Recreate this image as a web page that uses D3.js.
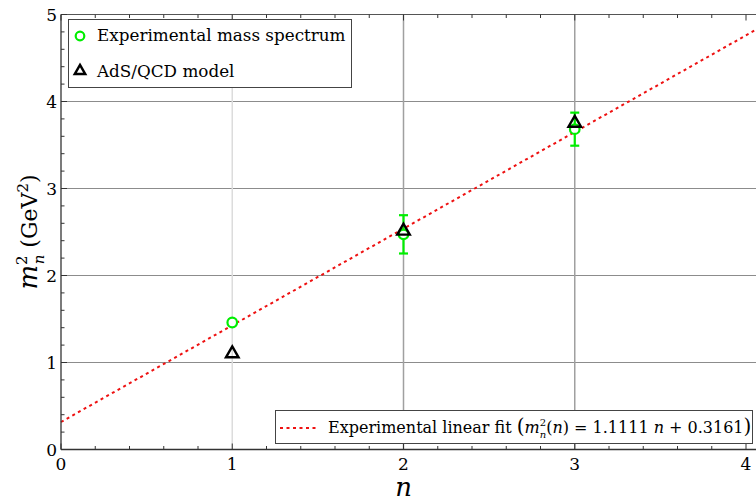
<!DOCTYPE html>
<html>
<head>
<meta charset="utf-8">
<script src="https://cdn.jsdelivr.net/npm/d3@7"></script>
<style>
  body { margin: 0; background: #fff; }
  text { font-family: "DejaVu Serif", serif; white-space: pre; }
</style>
</head>
<body>
<svg id="chart" width="756" height="504"></svg>
<script>
// data
let levels = [1, 2, 3]
let expMass = [1.46, 2.473, 3.682]
let expErr = [0, 0.22, 0.19]
let adsMass = [1.09, 2.50, 3.74]
let fitSlope = 1.1111
let fitIntercept = 0.3161
let xTicks = [0, 1, 2, 3, 4]
let yTicks = [0, 1, 2, 3, 4, 5]

let svg = d3.select("#chart")
let pLeft = 61, pRight = 746, pTop = 14.5, pBottom = 449.5

let x = d3.scaleLinear().domain([0, 4]).range([pLeft, pRight])
let y = d3.scaleLinear().domain([0, 5]).range([pBottom, pTop])

let minorX = d3.range(0, 4.21, 0.2)
let minorY = d3.range(0, 5.01, 0.2)

// grid lines
svg.append("g").selectAll("line")
  .data([1, 2, 3, 4])
  .enter().append("line")
    .attr("x1", pLeft).attr("x2", 756)
    .attr("y1", d => y(d)).attr("y2", d => y(d))
    .style("stroke", "#8c8c8c").style("stroke-width", 1.2)

svg.append("g").selectAll("line")
  .data([1, 2, 3])
  .enter().append("line")
    .attr("x1", d => x(d)).attr("x2", d => x(d))
    .attr("y1", pTop).attr("y2", pBottom)
    .style("stroke", d => d == 1 ? "#dcdcdc" : "#a0a0a0")
    .style("stroke-width", 1.5)

// fit line
let fitLine = d3.line()
  .x(d => x(d))
  .y(d => y(fitSlope * d + fitIntercept))

svg.append("path")
  .datum([0, 4.2])
  .attr("d", fitLine)
  .style("fill", "none")
  .style("stroke", "#ee1111")
  .style("stroke-width", 2)
  .style("stroke-dasharray", "3,3.5")

// error bars
let err = svg.append("g").selectAll("g")
  .data(levels.map((n, i) => ({n: n, m: expMass[i], e: expErr[i]})).filter(d => d.e > 0))
  .enter().append("g")
  .style("stroke", "#00ee00").style("stroke-width", 2.2)

err.append("line")
  .attr("x1", d => x(d.n)).attr("x2", d => x(d.n))
  .attr("y1", d => y(d.m - d.e)).attr("y2", d => y(d.m + d.e))
err.append("line")
  .attr("x1", d => x(d.n) - 4.5).attr("x2", d => x(d.n) + 4.5)
  .attr("y1", d => y(d.m - d.e)).attr("y2", d => y(d.m - d.e))
err.append("line")
  .attr("x1", d => x(d.n) - 4.5).attr("x2", d => x(d.n) + 4.5)
  .attr("y1", d => y(d.m + d.e)).attr("y2", d => y(d.m + d.e))

// experimental points
svg.append("g").selectAll("circle")
  .data(levels)
  .enter().append("circle")
    .attr("cx", d => x(d))
    .attr("cy", (d, i) => y(expMass[i]))
    .attr("r", 4.8)
    .style("fill", "white")
    .style("stroke", "#00ee00")
    .style("stroke-width", 2.2)

// AdS/QCD triangles
let tri = d3.symbol().type(d3.symbolTriangle).size(68)
svg.append("g").selectAll("path")
  .data(levels)
  .enter().append("path")
    .attr("d", tri)
    .attr("transform", (d, i) => "translate(" + x(d) + "," + (y(adsMass[i]) - 1) + ")")
    .style("fill", "none")
    .style("stroke", "black")
    .style("stroke-width", 2.4)

// frame: left, bottom, top
svg.append("line").attr("x1", pLeft).attr("x2", pLeft).attr("y1", pTop).attr("y2", pBottom)
  .style("stroke", "#333").style("stroke-width", 1.3)
svg.append("line").attr("x1", pLeft).attr("x2", 756).attr("y1", pBottom).attr("y2", pBottom)
  .style("stroke", "#333").style("stroke-width", 1.3)
svg.append("line").attr("x1", pLeft).attr("x2", 756).attr("y1", pTop).attr("y2", pTop)
  .style("stroke", "#555").style("stroke-width", 1.1)

// ticks pointing inward
function isMajor(v) { return Math.abs(v - Math.round(v)) < 1e-6 }

svg.append("g").selectAll("line")
  .data(minorX)
  .enter().append("line")
    .attr("x1", d => x(d)).attr("x2", d => x(d))
    .attr("y1", pBottom).attr("y2", d => pBottom - (isMajor(d) ? 6 : 3.5))
    .style("stroke", "#333").style("stroke-width", 1)

svg.append("g").selectAll("line")
  .data(minorX)
  .enter().append("line")
    .attr("x1", d => x(d)).attr("x2", d => x(d))
    .attr("y1", pTop).attr("y2", d => pTop + (isMajor(d) ? 6 : 3.5))
    .style("stroke", "#333").style("stroke-width", 1)

svg.append("g").selectAll("line")
  .data(minorY)
  .enter().append("line")
    .attr("x1", pLeft).attr("x2", d => pLeft + (isMajor(d) ? 6 : 3.5))
    .attr("y1", d => y(d)).attr("y2", d => y(d))
    .style("stroke", "#333").style("stroke-width", 1)

// tick labels
svg.append("g").selectAll("text")
  .data(xTicks)
  .enter().append("text")
    .attr("x", d => x(d))
    .attr("y", pBottom + 20)
    .attr("text-anchor", "middle")
    .style("font-size", "17px")
    .text(d => d)

svg.append("g").selectAll("text")
  .data(yTicks)
  .enter().append("text")
    .attr("x", pLeft - 4)
    .attr("y", d => y(d) + 6)
    .attr("text-anchor", "end")
    .style("font-size", "17px")
    .text(d => d)

// axis titles
svg.append("text")
  .attr("x", x(2))
  .attr("y", 496)
  .attr("text-anchor", "middle")
  .style("font-size", "26px")
  .style("font-style", "italic")
  .text("n")

let ylab = svg.append("text")
  .attr("transform", "translate(37,232) rotate(-90)")
  .attr("text-anchor", "middle")
  .style("font-size", "22px")
ylab.append("tspan").style("font-style", "italic").style("font-size", "26px").text("m")
ylab.append("tspan").attr("dy", -10).style("font-size", "15px").text("2")
ylab.append("tspan").attr("dx", -9).attr("dy", 17).style("font-size", "15px").style("font-style", "italic").text("n")
ylab.append("tspan").attr("dy", -7).text(" (GeV")
ylab.append("tspan").attr("dy", -9).style("font-size", "15px").text("2")
ylab.append("tspan").attr("dy", 9).text(")")

// legend, top left
let leg = svg.append("g")
leg.append("rect")
  .attr("x", 68.5).attr("y", 19.5).attr("width", 283).attr("height", 68)
  .style("fill", "white").style("stroke", "#444").style("stroke-width", 1)
leg.append("circle")
  .attr("cx", 80).attr("cy", 36).attr("r", 4.3)
  .style("fill", "white").style("stroke", "#00ee00").style("stroke-width", 2.2)
leg.append("path")
  .attr("d", d3.symbol().type(d3.symbolTriangle).size(48))
  .attr("transform", "translate(80,71)")
  .style("fill", "none").style("stroke", "black").style("stroke-width", 2.4)
leg.append("text").attr("x", 97).attr("y", 41).style("font-size", "16.8px")
  .text("Experimental mass spectrum")
leg.append("text").attr("x", 97).attr("y", 77).style("font-size", "16.8px")
  .text("AdS/QCD model")

// legend, bottom right
let leg2 = svg.append("g")
leg2.append("rect")
  .attr("x", 275.5).attr("y", 410.5).attr("width", 477).attr("height", 33)
  .style("fill", "white").style("stroke", "#444").style("stroke-width", 1)
leg2.append("line")
  .attr("x1", 280).attr("x2", 316).attr("y1", 428).attr("y2", 428)
  .style("stroke", "#ee1111").style("stroke-width", 2).style("stroke-dasharray", "3,3.5")

// fit label is laid out piece by piece so sub/superscripts do not overlap
let pieces = [
  {t: "Experimental linear fit ", size: 16},
  {t: "(", size: 20},
  {t: "m", size: 16, it: true},
  {t: "2", size: 10, dy: -7, stack: true},
  {t: "n", size: 10, dy: 5, it: true},
  {t: "(", size: 16},
  {t: "n", size: 16, it: true},
  {t: ") = 1.1111 ", size: 16},
  {t: "n", size: 16, it: true},
  {t: " + 0.3161", size: 16},
  {t: ")", size: 20}
]
let cx = 328, baseY = 433, stackW = 0
pieces.forEach(p => {
  let t = leg2.append("text")
    .attr("x", cx).attr("y", baseY + (p.dy || 0))
    .style("font-size", p.size + "px")
    .style("font-style", p.it ? "italic" : "normal")
    .text(p.t)
  let w = t.node().getComputedTextLength()
  if (p.stack) { stackW = w } else { cx += Math.max(w, stackW); stackW = 0 }
})
</script>
</body>
</html>
